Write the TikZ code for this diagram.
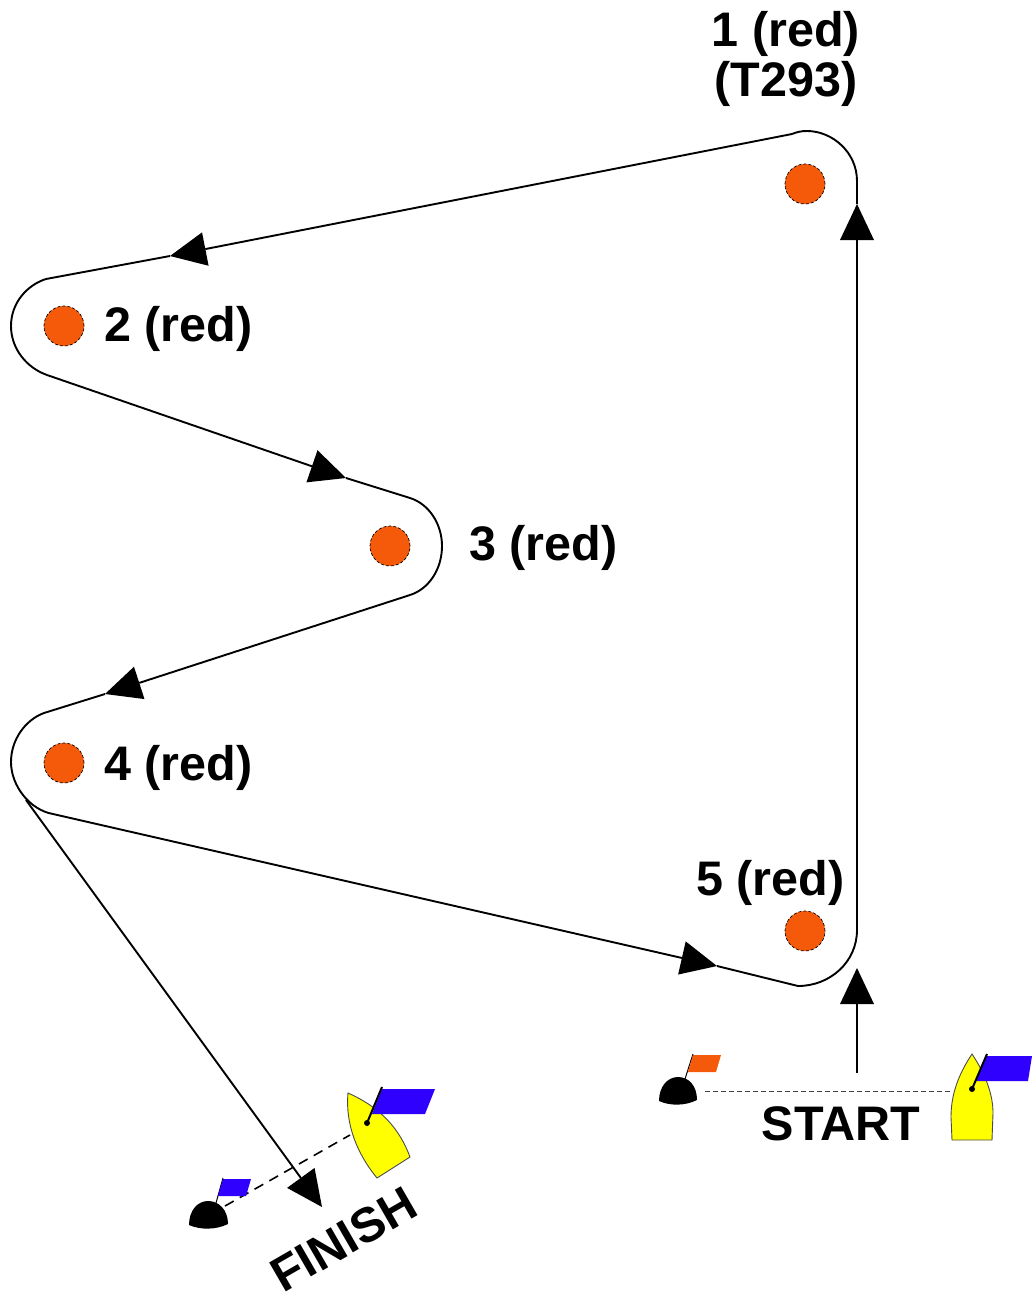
\documentclass[tikz,border=0pt]{standalone}
\usepackage{fontspec}
\setmainfont{Liberation Sans}
\usetikzlibrary{arrows.meta}
\definecolor{markred}{RGB}{245,90,10}
\definecolor{flagblue}{RGB}{48,0,255}
\definecolor{hull}{RGB}{255,255,0}
\tikzset{
  course/.style={line width=1.9pt,black,line join=round},
  flow/.style={course,-{Triangle[length=36pt,width=34pt,inset=0pt,line width=0pt]}},
  turnmark/.style={circle,draw=black,densely dashed,line width=0.7pt,fill=markred,minimum size=40pt,inner sep=0pt},
  lab/.style={font=\fontsize{48.5pt}{50pt}\selectfont\bfseries,inner sep=0pt,text=black},
  startdash/.style={line width=1pt,dash pattern=on 5pt off 3pt,black!75},
  finline/.style={line width=1.6pt,dash pattern=on 10pt off 7pt,black},
  hullstyle/.style={fill=hull,draw=black!70,line width=0.9pt,line join=miter},
  mast/.style={line width=2pt,black},
  dot/.style={circle,fill=black,inner sep=0pt,minimum size=6pt},
  buoydome/.style={fill=black}
}
\begin{document}
\begin{tikzpicture}[x=1pt,y=-1pt]
\useasboundingbox (0,0) rectangle (1032,1295);
% marks
\node[turnmark] (m1) at (805,184) {};
\node[turnmark] (m2) at (64,326) {};
\node[turnmark] (m3) at (390,546) {};
\node[turnmark] (m4) at (64,763) {};
\node[turnmark] (m5) at (805,931) {};
% labels
\node[lab,anchor=base] (l1) at (786,47) {1 (red)};
\node[lab,anchor=base] (l1b) at (786,97) {(T293)};
\node[lab,anchor=base west] (l2) at (104,341) {2 (red)};
\node[lab,anchor=base west] (l3) at (469,560) {3 (red)};
\node[lab,anchor=base west] (l4) at (104,780) {4 (red)};
\node[lab,anchor=base west] (l5) at (696,895) {5 (red)};
\node[lab,anchor=base] (lstart) at (841,1140) {START};
\node[lab,anchor=base,rotate=30] (lfinish) at (352,1254) {FINISH};
% course coordinates
\coordinate (startline) at (857,1073);
\coordinate (tipA) at (857,968);
\coordinate (a5) at (857,930);
\coordinate (b5) at (798,986);
\coordinate (tipB) at (857,204);
\coordinate (a1) at (857,181);
\coordinate (b1) at (792,134);
\coordinate (tip2) at (170,256);
\coordinate (a2) at (46,279);
\coordinate (b2) at (47,375);
\coordinate (tip3) at (346,478);
\coordinate (a3) at (410,498);
\coordinate (b3) at (410,595);
\coordinate (tip4) at (105,694);
\coordinate (a4) at (44,713);
\coordinate (b4) at (53,814);
\coordinate (tip5) at (717,966);
\coordinate (split) at (26,800);
\coordinate (tipF) at (322,1207);
% start leg
\draw[flow] (startline) -- (tipA);
% course
\draw[flow] (b5) .. controls (830,986) and (857,962) .. (a5) -- (tipB);
\draw[course] (tipB) -- (a1) .. controls (857,152) and (832,131) .. (807,131) .. controls (801,131) and (797,132) .. (b1);
\draw[flow] (b1) -- (tip2);
\draw[course] (tip2) -- (a2) .. controls (27,285) and (11,303) .. (11,326) .. controls (11,349) and (27,368) .. (b2);
\draw[flow] (b2) -- (tip3);
\draw[course] (tip3) -- (a3) .. controls (429,504) and (442,524) .. (442,546) .. controls (442,569) and (429,589) .. (b3);
\draw[flow] (b3) -- (tip4);
\draw[course] (tip4) -- (a4) .. controls (25,720) and (11,740) .. (11,762) .. controls (11,786) and (30,810) .. (b4);
\draw[flow] (b4) -- (tip5);
\draw[course] (tip5) -- (b5);
\draw[flow] (split) -- (tipF);
% start line
\coordinate (sb) at (705,1091);
\coordinate (sh) at (951,1091);
\draw[startdash] (sb) -- (sh);
% start buoy
\fill[buoydome] (659,1101) .. controls (659,1086) and (668,1077) .. (678,1077) .. controls (689,1077) and (697,1086) .. (697,1100) .. controls (685,1106) and (670,1106) .. cycle;
\draw[line width=1pt] (685,1079) -- (693,1054);
\fill[markred] (693,1055) -- (721,1055) -- (716,1072) -- (688,1072) -- cycle;
% start boat
\draw[hullstyle] (972,1054) .. controls (958,1075) and (951,1095) .. (951,1117) -- (952,1140) -- (992,1140) -- (993,1113) .. controls (993,1095) and (986,1075) .. cycle;
\fill[flagblue] (987,1056) -- (1032,1056) -- (1028,1081) -- (976,1081) -- cycle;
\draw[mast] (972,1089) -- (987,1054);
\node[dot] (sd) at (972,1089) {};
% finish line
\coordinate (fb) at (225,1206);
\coordinate (fh) at (350,1135);
\draw[finline] (fb) -- (fh);
% finish buoy
\fill[buoydome] (189,1225) .. controls (189,1210) and (198,1201) .. (208,1201) .. controls (219,1201) and (228,1210) .. (228,1224) .. controls (216,1230) and (200,1230) .. cycle;
\draw[line width=1pt] (216,1203) -- (223,1178);
\fill[flagblue] (223,1179) -- (251,1179) -- (246,1196) -- (218,1196) -- cycle;
% finish boat
\draw[hullstyle] (348,1093) .. controls (382,1108) and (400,1130) .. (410,1157) -- (377,1178) .. controls (358,1155) and (345,1125) .. cycle;
\fill[flagblue] (382,1089) -- (435,1089) -- (425,1114) -- (372,1114) -- cycle;
\draw[mast] (367,1123) -- (382,1087);
\node[dot] (fd) at (367,1123) {};
\end{tikzpicture}
\end{document}
